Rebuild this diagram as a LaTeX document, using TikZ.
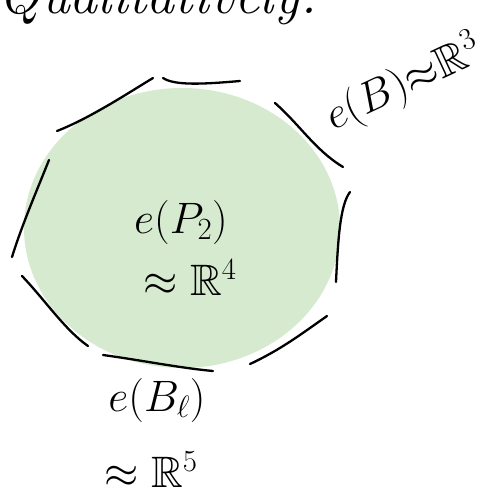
\RequirePackage{fix-cm}
\documentclass[tikz,border=0pt]{standalone}
\usepackage{amssymb}
\definecolor{cellgreen}{RGB}{213,234,206}
\tikzset{
  edgestroke/.style={line width=2.3pt, line cap=round, black},
  bigtext/.style={inner sep=0pt, font=\fontsize{44}{52}\selectfont},
}
\begin{document}
\begin{tikzpicture}[x=1pt,y=-1pt]
\clip (0,0) rectangle (496,504);
\fill[white] (0,0) rectangle (496,504);
% green cell
\fill[cellgreen] (182,228) ellipse [x radius=158, y radius=140];
% boundary strokes
\draw[edgestroke] (57,131) .. controls (90,118) and (125,95) .. (153,78);
\draw[edgestroke] (163,78) .. controls (175,86) and (205,84) .. (240,81);
\draw[edgestroke] (275,103) .. controls (300,125) and (315,150) .. (343,167);
\draw[edgestroke] (350,192) .. controls (340,205) and (338,240) .. (336,282);
\draw[edgestroke] (327,316) .. controls (300,335) and (280,350) .. (250,364);
\draw[edgestroke] (103,355) .. controls (140,360) and (180,368) .. (213,371);
\draw[edgestroke] (22,276) .. controls (45,300) and (65,330) .. (88,346);
\draw[edgestroke] (49,160) .. controls (35,195) and (22,225) .. (12,257);
% texts
\node[inner sep=0pt, font=\fontsize{56}{64}\selectfont, anchor=base west] (title) at (-2,13) {\itshape Qualitatively:};
\node[bigtext] (ep) at (181,222) {$e(P_2)$};
\node[bigtext] (rfour) at (190,278) {$\approx\mathbb{R}^4$};
\node[bigtext, rotate=25] (eb) at (404,84) {$e(B){\approx}\mathbb{R}^3$};
\node[bigtext] (ebl) at (157,400) {$e(B_\ell)$};
\node[bigtext] (rfive) at (151,470) {$\approx\mathbb{R}^5$};
\end{tikzpicture}
\end{document}
